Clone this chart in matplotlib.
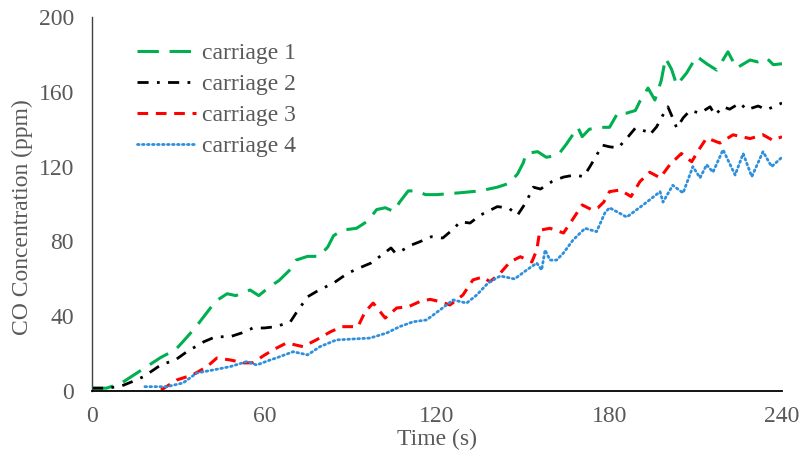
import matplotlib
matplotlib.use("Agg")
import matplotlib.pyplot as plt

# carriage 1 (green, long dash)
t1 = [0, 5, 10, 14, 19, 24, 29, 32, 36, 40, 43, 47, 50, 55, 58, 62, 65, 69, 71, 75,
      79, 82, 84, 87, 92, 96, 99, 102, 105, 107, 110, 113, 116, 120, 128, 135, 141, 145,
      148, 150, 151, 155, 158, 162, 165, 169, 170.5, 173, 177, 180, 183, 186, 189, 190.6,
      193.4, 195.8, 198, 199.5, 201.6, 203.4, 206.8, 210.3, 213.8, 217.3, 221.2, 224.2,
      228.9, 231.5, 234.7, 237, 240]
c1 = [1.5, 1.5, 4, 8, 13, 18, 22, 27, 34, 42, 48, 52, 51, 54, 51, 56, 59, 65, 70, 72,
      72, 77, 83, 86, 87, 91, 97, 98, 96, 101, 107, 107, 105, 105, 106, 107, 109, 111,
      116, 122, 127, 128, 125, 126, 132, 141, 136, 140, 141, 141, 149, 148.6, 150, 155,
      162, 155.6, 166, 178, 172, 163.6, 170, 179, 175, 171.6, 181.4, 172.7,
      177, 176, 178, 174.5, 175]

# carriage 2 (black, dash-dot)
t2 = [0, 5, 10, 14, 18, 24, 29, 33, 39, 43, 48, 52, 56, 60, 64, 69, 71, 75, 79, 84,
      89, 93, 97, 100, 104, 105.5, 107, 111, 114, 118, 122, 126, 128, 131.5, 135, 141,
      145, 148, 151, 153.5, 156, 160, 164, 168, 171, 173.2, 175.5, 177.5, 180, 183,
      186.5, 189, 193, 194, 196.4, 198.6, 200.3, 202, 203.4, 205.6, 208, 211.5, 215,
      216.7, 219.5, 221.8, 225.4, 227.7, 231.7, 234.7, 237, 240]
c2 = [1.5, 1.5, 2.5, 5, 7.7, 14, 16.6, 21, 26.4, 29, 29, 31, 33.7, 33.7, 34.4, 37, 41.7,
      50.4, 54, 57.7, 63, 65.8, 68.4, 71.8, 76.5, 73.8, 74.4, 78, 79.8, 82.5, 81.8, 87,
      90.5, 89.8, 94, 98.6, 97.8, 94, 101, 109, 108, 112, 114.4, 115.5, 114.6, 120, 126,
      131.5, 130.6, 130, 136, 140.6, 138.7, 137, 141.3, 147.6, 152, 146, 140.6, 146, 150,
      148.6, 152, 147.6, 152, 150.7, 154, 150.4, 152.4, 150.4, 152, 154]

# carriage 3 (red, dashed)
t3 = [24, 29.5, 35, 40, 43.4, 48, 53, 56, 59.5, 63, 67.7, 73.4, 78, 83, 87, 92.5, 95,
      97.8, 102, 106, 110, 114, 117.6, 121, 124.5, 129, 132.5, 136, 138.4, 142, 145.4,
      149, 153, 154.7, 155.8, 159.3, 164, 167.3, 170.5, 174, 176, 178, 180, 183.7, 187.5,
      190.6, 194, 197.6, 201, 205, 208.6, 211.5, 213.8, 218.4, 223, 228.9, 233.4, 236.9, 240]
c3 = [0.5, 5.9, 8.6, 13, 17.6, 16.6, 15, 15.1, 18.7, 22, 25.7, 23.7, 27.3, 31.7, 34.4,
      34.4, 42.4, 47, 39, 44.4, 45, 47.8, 49, 47.8, 46, 51.3, 59.4, 61, 58.4, 63, 69, 71.8,
      69, 75.4, 86, 87, 84.5, 92, 99.5, 96.8, 98, 101, 106.6, 107.5, 104, 112, 117, 114,
      121, 127, 122.6, 130, 135.3, 132.6, 137, 135, 137, 134, 136]

# carriage 4 (blue, dotted)
t4 = [18.4, 26, 31.7, 36.4, 42, 48, 53.8, 57.3, 62, 64, 70, 75, 79.3, 85, 96.7, 102.5,
      107, 111.7, 116.4, 121, 125.6, 130.3, 133.8, 137.8, 142, 147, 151.2, 154.7, 156.4,
      157.6, 159.3, 161.6, 164, 167.3, 171.5, 175.5, 178.4, 180, 186, 191.7, 197.6, 198.6,
      202, 205.6, 209, 211.5, 213.8, 216, 219.5, 223.7, 226.5, 229.5, 233.4, 236.4, 240]
c4 = [2.3, 2.3, 4.3, 9.6, 11.2, 13, 15.7, 13.9, 16.6, 17.6, 21, 19.3, 23.7, 27.3, 28.3,
      31, 34.4, 37, 38, 43.3, 48.7, 47, 51.3, 57.8, 61.5, 59.9, 64.7, 68.4, 64.7, 75.4, 70,
      70, 73.8, 80.7, 87, 85.2, 95.2, 98, 93, 99.5, 106.6, 101, 110, 105.9, 120, 114, 121,
      117, 129, 115.5, 127, 114.6, 128, 120, 125]

labels = ["carriage 1", "carriage 2", "carriage 3", "carriage 4"]
x_ticks = [0, 60, 120, 180, 240]
y_ticks = [0, 40, 80, 120, 160, 200]

grey = "#595959"
fs = 17
plt.rcParams["font.family"] = ["Liberation Serif", "DejaVu Serif"]

fig = plt.figure(figsize=(8.05, 4.66), dpi=100)
ax = fig.add_axes([0.1143, 0.161, 0.8571, 0.8025])

ax.plot(t1, c1, color="#00B050", lw=2.2, linestyle=(0, (7, 3.5)), label=labels[0])
ax.plot(t2, c2, color="black", lw=2.0, linestyle=(0, (4, 3, 1, 3)), label=labels[1])
ax.plot(t3, c3, color="#FF0000", lw=2.2, linestyle=(0, (3.5, 2.5)), label=labels[2])
ax.plot(t4, c4, color="#2E8FDC", lw=2.0, linestyle=(0, (0.6, 1.2)),
        dash_capstyle="round", label=labels[3])

ax.set_xlim(0, 240)
ax.set_ylim(0, 200)
ax.set_xticks(x_ticks)
ax.set_yticks(y_ticks)
ax.tick_params(length=0, labelsize=fs, labelcolor=grey)
ax.tick_params(axis="y", pad=13)
ax.tick_params(axis="x", pad=11)
for s in ["top", "right"]:
    ax.spines[s].set_visible(False)
ax.spines["left"].set_color("#404040")
ax.spines["bottom"].set_color("black")
ax.spines["left"].set_linewidth(1.0)
ax.spines["bottom"].set_linewidth(1.3)

ax.set_xlabel("Time (s)", fontsize=fs, color=grey)
ax.set_ylabel("CO Concentration (ppm)", fontsize=fs, color=grey)
ax.xaxis.set_label_coords(0.5, -0.102)
ax.yaxis.set_label_coords(-0.086, 0.465)

ax.legend(loc="upper left", bbox_to_anchor=(0.065, 0.932), frameon=False,
          fontsize=fs, labelcolor=grey, handlelength=2.5, handletextpad=0.25,
          labelspacing=0.4, borderpad=0, borderaxespad=0)

fig.savefig("out.png", dpi=100)
